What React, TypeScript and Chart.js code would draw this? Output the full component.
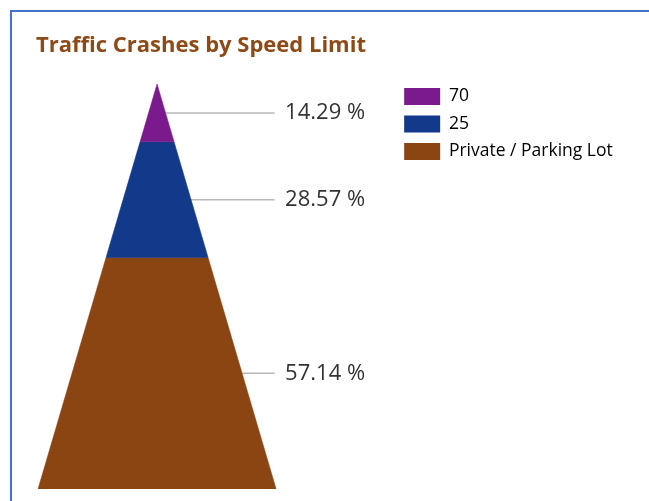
import React, { useEffect, useRef } from 'react';
import { Chart, registerables } from 'chart.js';

Chart.register(...registerables);

const chartTitle = 'Traffic Crashes by Speed Limit';
const categories = ['70', '25', 'Private / Parking Lot'];
const crashCounts = [1, 2, 4];
const segmentColors = ['#7B1A8C', '#12398A', '#8B4513'];

const LEADER_END_X = 0.987;
const LABEL_X = 1.0756;

export default function App() {
  const canvasRef = useRef<HTMLCanvasElement | null>(null);

  useEffect(() => {
    if (!canvasRef.current) return;
    const total = crashCounts.reduce((a, b) => a + b, 0);
    const pct = crashCounts.map((v) => (v / total) * 100);
    const halfWidth = (h: number) => (100 - h) / 100;
    let top = 100;
    const segs = pct.map((p) => {
      const t = top;
      const b = top - p;
      top = b;
      return { t, b, m: (t + b) / 2 };
    });

    const shapeDatasets = segs.map((s, i) => ({
      label: categories[i],
      data: [
        { x: -halfWidth(s.t), y: s.t },
        { x: halfWidth(s.t), y: s.t },
        { x: halfWidth(s.b), y: s.b },
        { x: -halfWidth(s.b), y: s.b },
        { x: -halfWidth(s.t), y: s.t },
      ],
      backgroundColor: segmentColors[i],
      borderColor: segmentColors[i],
      borderWidth: 0.5,
      fill: 'shape',
      pointRadius: 0,
      pointHoverRadius: 0,
      tension: 0,
    }));

    const leaderDatasets = segs.map((s) => ({
      label: '',
      data: [
        { x: halfWidth(s.m), y: s.m },
        { x: LEADER_END_X, y: s.m },
      ],
      borderColor: '#b8b8b8',
      backgroundColor: '#b8b8b8',
      borderWidth: 1.5,
      pointRadius: 0,
      pointHoverRadius: 0,
      fill: false,
    }));

    const labelPlugin = {
      id: 'pctLabels',
      afterDatasetsDraw(chart: any) {
        const { ctx } = chart;
        const xs = chart.scales.x;
        const ys = chart.scales.y;
        ctx.save();
        ctx.font = '22px "Open Sans"';
        ctx.fillStyle = '#333333';
        ctx.textBaseline = 'middle';
        ctx.textAlign = 'left';
        segs.forEach((s, i) => {
          ctx.fillText(pct[i].toFixed(2) + ' %', xs.getPixelForValue(LABEL_X), ys.getPixelForValue(s.m));
        });
        ctx.restore();
      },
    };

    const chart = new Chart(canvasRef.current, {
      type: 'line',
      data: { datasets: [...shapeDatasets, ...leaderDatasets] as any },
      options: {
        animation: false,
        responsive: true,
        maintainAspectRatio: false,
        layout: { padding: { left: 24, right: 26.25, top: 0, bottom: 12 } },
        scales: {
          x: { type: 'linear', min: -1.0168, max: 1.9916, display: false },
          y: { type: 'linear', min: 0, max: 101.54, display: false },
        },
        plugins: {
          tooltip: { enabled: false },
          title: {
            display: true,
            text: chartTitle,
            align: 'start',
            color: '#8E4A16',
            font: { family: 'Open Sans', size: 22, weight: 'bold' },
            padding: { top: 20.8, bottom: 18.55 },
          },
          legend: {
            position: 'right',
            align: 'start',
            fullSize: false,
            labels: {
              boxWidth: 36,
              boxHeight: 17,
              padding: 10,
              color: '#595959',
              font: { family: 'Open Sans', size: 17.5 },
              generateLabels: () =>
                categories.map((c, i) => ({
                  text: c,
                  fillStyle: segmentColors[i],
                  strokeStyle: segmentColors[i],
                  lineWidth: 0,
                  hidden: false,
                  datasetIndex: i,
                })),
            },
          },
        },
      } as any,
      plugins: [labelPlugin],
    });
    return () => chart.destroy();
  }, []);

  return (
    <div
      style={{
        position: 'fixed',
        left: 10,
        top: 10,
        width: 639,
        height: 491,
        borderTop: '2px solid #4472C4',
        borderLeft: '2px solid #4472C4',
        background: '#ffffff',
      }}
    >
      <div style={{ position: 'absolute', left: 0, top: 0, width: 637, height: 489 }}>
        <canvas ref={canvasRef} />
      </div>
    </div>
  );
}
